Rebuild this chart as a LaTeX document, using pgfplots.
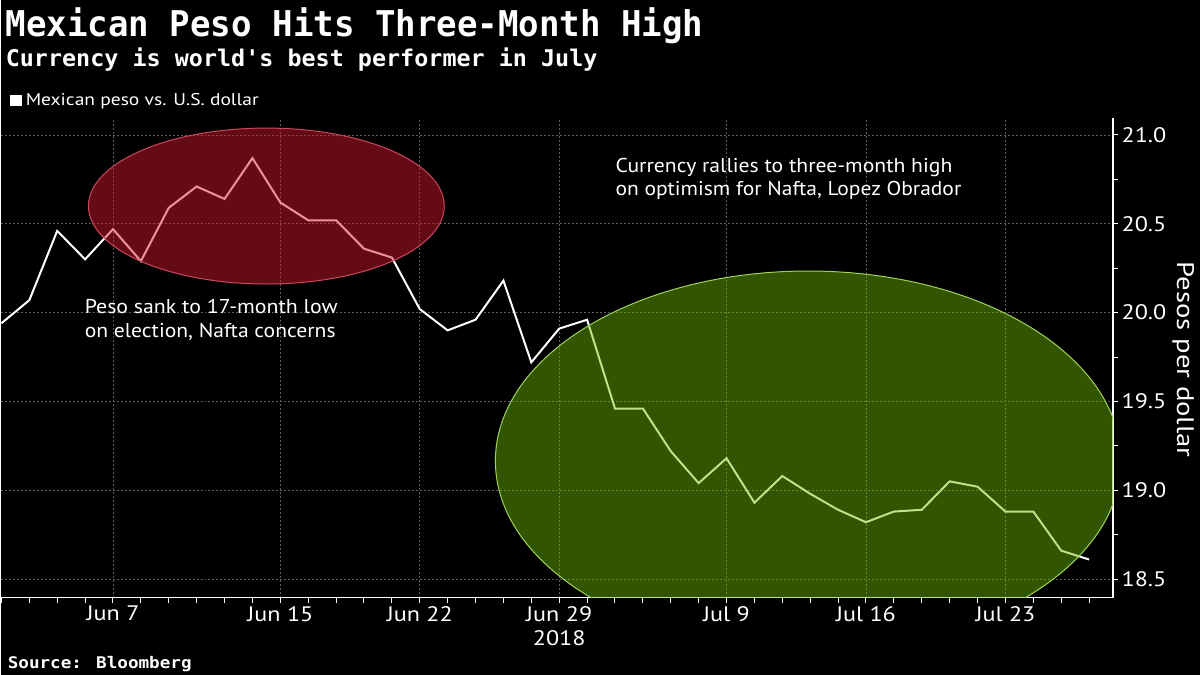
\documentclass[border=0pt]{standalone}
\usepackage{pgfplots}
\pgfplotsset{compat=1.18}
\usepackage{graphicx}
\usepackage{fontspec}
\setmainfont{PT Sans}[Ligatures=TeXOff]
\newfontfamily\bbfont{PT Sans}[FakeStretch=1.15, Ligatures=TeXOff]
\newfontfamily\monofam{DejaVu Sans Mono}
\newcommand{\fitw}[2]{\resizebox{#1}{\height}{#2}}
\definecolor{gridc}{RGB}{95,95,95}
\definecolor{redfill}{RGB}{215,25,45}
\definecolor{rededge}{RGB}{205,70,95}
\definecolor{greenfill}{RGB}{110,190,0}
\definecolor{greenedge}{RGB}{160,210,90}
\begin{document}
\begin{tikzpicture}[x=1pt,y=1pt]
\fill[black] (0,0) rectangle (1200,675);
\begin{axis}[
  at={(0pt,77pt)}, anchor=south west,
  scale only axis, width=1113pt, height=480pt,
  xmin=-0.03, xmax=39.86, ymin=18.395, ymax=21.096,
  axis x line*=bottom, axis y line*=right,
  axis line style={white, line width=1.2pt, -},
  xtick={4,10,15,20,26,31,36},
  xticklabels={Jun 7,Jun 15,Jun 22,{Jun 29\\2018},Jul 9,Jul 16,Jul 23},
  minor xtick={0,1,...,39},
  ytick={18.5,19,19.5,20,20.5,21},
  minor ytick={18.75,19.25,19.75,20.25,20.75},
  tick align=outside,
  major tick length=5pt, minor tick length=5pt,
  tick style={white, line width=1pt},
  xmajorgrids, ymajorgrids,
  major grid style={gridc, dash pattern=on 2pt off 2pt, line width=0.7pt},
  tick label style={white, font=\bbfont\fontsize{21}{24}\selectfont},
  xticklabel style={align=center},
  yticklabel style={/pgf/number format/fixed, /pgf/number format/fixed zerofill, /pgf/number format/precision=1},
  /pgf/number format/assume math mode=true,
]
\addplot[white, line width=2pt, line join=miter] coordinates {
(0,19.94) (1,20.07) (2,20.46) (3,20.30) (4,20.47) (5,20.29) (6,20.59) (7,20.71)
(8,20.64) (9,20.87) (10,20.62) (11,20.52) (12,20.52) (13,20.36) (14,20.31) (15,20.02)
(16,19.90) (17,19.96) (18,20.18) (19,19.72) (20,19.91) (21,19.96) (22,19.46) (23,19.46)
(24,19.22) (25,19.04) (26,19.18) (27,18.93) (28,19.08) (29,18.98) (30,18.89) (31,18.82)
(32,18.88) (33,18.89) (34,19.05) (35,19.02) (36,18.88) (37,18.88) (38,18.66) (39,18.61)
};
\fill[redfill, fill opacity=0.47] (axis cs:9.5,20.60) ellipse [x radius=178pt, y radius=78pt];
\draw[rededge, line width=1pt] (axis cs:9.5,20.60) ellipse [x radius=178pt, y radius=78pt];
\fill[greenfill, fill opacity=0.45] (axis cs:28.93,19.165) ellipse [x radius=313pt, y radius=190pt];
\draw[greenedge, line width=1pt] (axis cs:28.93,19.165) ellipse [x radius=313pt, y radius=190pt];
\end{axis}
\node[anchor=base west, text=white, inner sep=0, font=\monofam\bfseries\fontsize{35.5}{40}\selectfont] at (5,638) {\fitw{698pt}{Mexican Peso Hits Three-Month High}};
\node[anchor=base west, text=white, inner sep=0, font=\monofam\bfseries\fontsize{23}{28}\selectfont] at (5,608) {\fitw{592pt}{Currency is world's best performer in July}};
\fill[white] (9,569) rectangle (21,580);
\node[anchor=base west, text=white, inner sep=0, font=\fontsize{17}{20}\selectfont] at (25,569) {\fitw{233pt}{Mexican peso vs. U.S. dollar}};
\node[anchor=base west, text=white, inner sep=0, font=\fontsize{20}{24}\selectfont] at (84,361) {\fitw{253pt}{Peso sank to 17-month low}};
\node[anchor=base west, text=white, inner sep=0, font=\fontsize{20}{24}\selectfont] at (84,337) {\fitw{251pt}{on election, Nafta concerns}};
\node[anchor=base west, text=white, inner sep=0, font=\fontsize{20}{24}\selectfont] at (615,502) {\fitw{337pt}{Currency rallies to three-month high}};
\node[anchor=base west, text=white, inner sep=0, font=\fontsize{20}{24}\selectfont] at (615,479) {\fitw{346pt}{on optimism for Nafta, Lopez Obrador}};
\node[rotate=-90, anchor=base, text=white, inner sep=0, font=\fontsize{24}{28}\selectfont] at (1177,315) {\fitw{196pt}{Pesos per dollar}};
\node[anchor=base west, text=white, inner sep=0, font=\monofam\bfseries\fontsize{16}{18}\selectfont] at (7,6) {\fitw{184pt}{Source: Bloomberg}};
\end{tikzpicture}
\end{document}
